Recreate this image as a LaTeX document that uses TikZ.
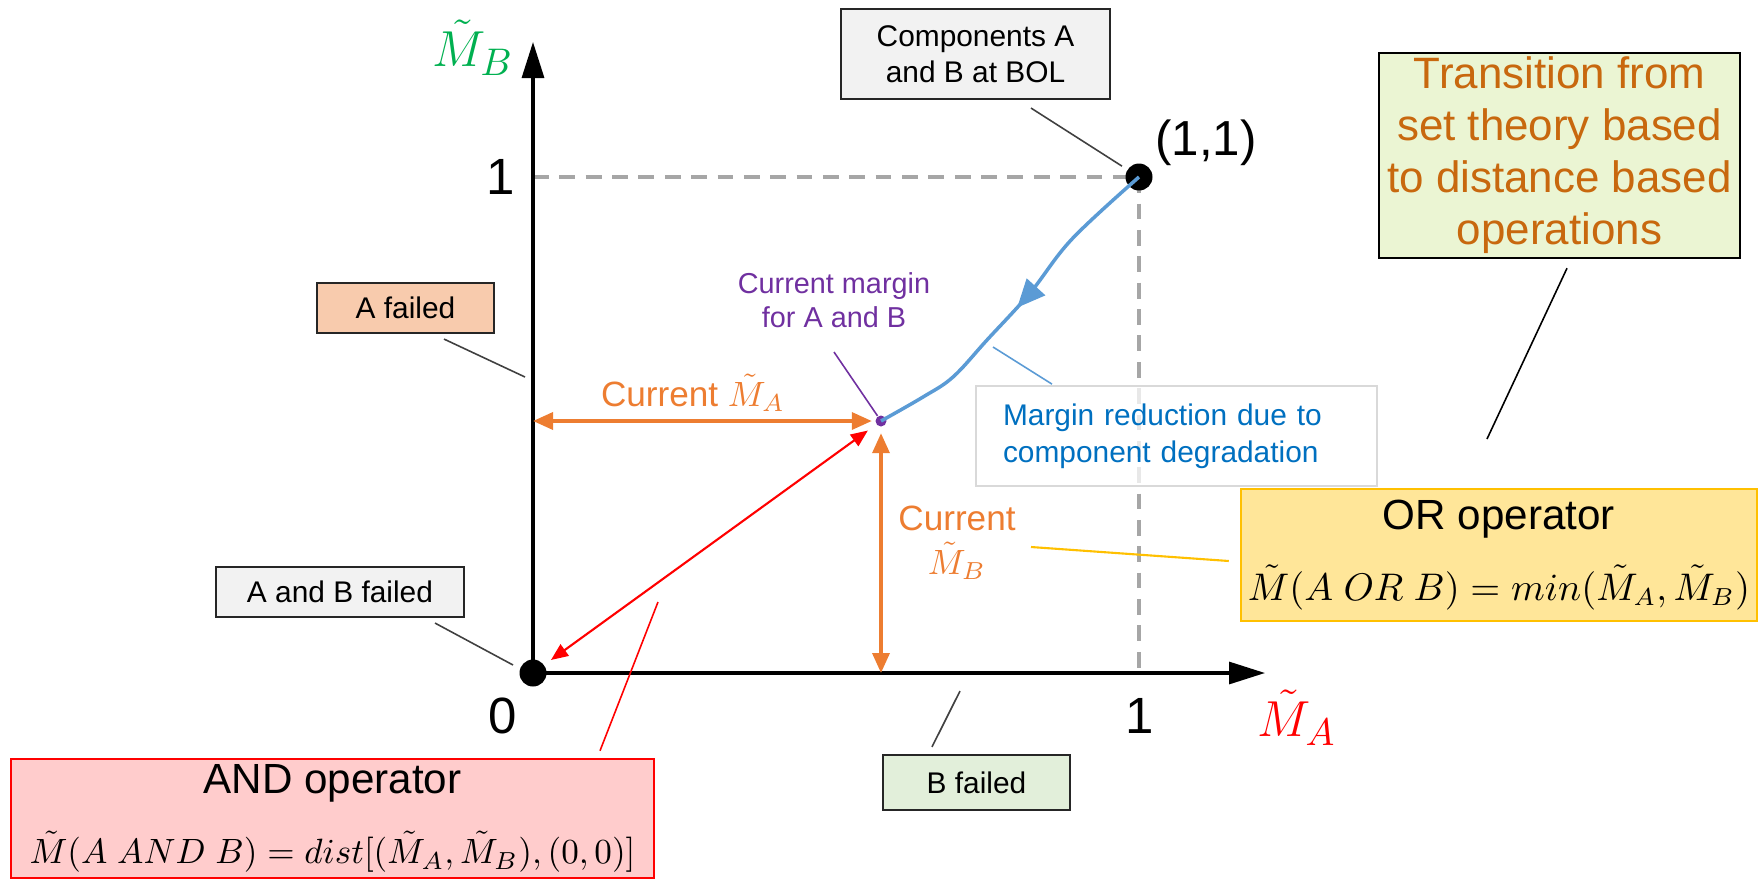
\documentclass[tikz,border=0pt]{standalone}
\usepackage{fontspec}
\setmainfont{Liberation Sans}
\usepackage{tikz}
\usetikzlibrary{arrows.meta,positioning,calc,decorations.markings}
\definecolor{Guide}{HTML}{A6A6A6}
\definecolor{Tan}{HTML}{ED7D31}
\definecolor{Rust}{HTML}{C8680E}
\definecolor{Sky}{HTML}{5B9BD5}
\definecolor{Ocean}{HTML}{0070C0}
\definecolor{Plum}{HTML}{7030A0}
\definecolor{Leaf}{HTML}{00B050}
\definecolor{Alarm}{HTML}{FF0000}
\definecolor{Cloud}{HTML}{F2F2F2}
\definecolor{Peach}{HTML}{F8CBAD}
\definecolor{Mint}{HTML}{E2EFDA}
\definecolor{Lime}{HTML}{EBF5D3}
\definecolor{Gold}{HTML}{FFC000}
\definecolor{GoldSoft}{HTML}{FFE699}
\definecolor{Rose}{HTML}{FFCCCC}
\definecolor{Frame}{HTML}{D9D9D9}
\newcommand{\Mt}{\tilde{M}}
\tikzset{
  tag/.style={draw=black!85,line width=.6pt,align=center,inner sep=0pt,font=\fontsize{8.5}{10.2}\selectfont},
  opbox/.style={line width=.7pt,align=center,inner sep=0pt,font=\fontsize{12}{14}\selectfont},
  axisline/.style={-{Triangle[length=3.6mm,width=2.2mm]},line width=.9pt},
  guide/.style={draw=Guide,line width=1.1pt,dash pattern=on 4.5pt off 3pt},
  reach/.style={{Triangle[length=2mm,width=1.7mm]}-{Triangle[length=2mm,width=1.7mm]},draw=Tan,line width=1pt},
  hyp/.style={{Triangle[length=1.7mm,width=1.4mm]}-{Triangle[length=1.7mm,width=1.4mm]},draw=Alarm,line width=.6pt},
  lead/.style={draw=black!75,line width=.45pt},
  bigdot/.style={circle,fill=black,inner sep=0pt,minimum size=.27cm},
  ticklab/.style={font=\fontsize{14.5}{17}\selectfont},
  trend/.style={draw=Sky,line width=1pt}
}
\begin{document}
\begin{tikzpicture}
  \useasboundingbox (0,0) rectangle (17.6,8.79);
  \coordinate (ytip) at (5.33,8.37);
  \coordinate (xtip) at (12.65,2.06);
  \draw[guide] (5.33,7.02) -- (11.39,7.02) -- (11.39,2.06);
  \node[bigdot] (origin) at (5.33,2.06) {};
  \node[bigdot] (bol) at (11.39,7.02) {};
  \node[circle,fill=Plum,inner sep=0pt,minimum size=.11cm] (cur) at (8.81,4.58) {};
  \draw[axisline] (origin.center) -- (ytip);
  \draw[axisline] (origin.center) -- (xtip);

  \node[ticklab] (yone) at (5.01,7.02) {1};
  \node[ticklab] (zero) at (5.03,1.63) {0};
  \node[ticklab] (xone) at (11.40,1.63) {1};
  \node[font=\fontsize{14}{17}\selectfont] (bollab) at (12.06,7.36) {(1,1)};
  \node[font=\fontsize{15}{18}\selectfont,text=Leaf] (mb) at (4.73,8.31) {$\Mt_B$};
  \node[font=\fontsize{15}{18}\selectfont,text=Alarm] (ma) at (12.97,1.61) {$\Mt_A$};

  \draw[trend] plot[smooth,tension=.6] coordinates {(bol.center) (10.72,6.40) (10.30,5.86) (9.87,5.39) (9.53,5.02) (9.23,4.82) (cur.center)};
  \path[color=Sky,postaction={decorate,decoration={markings,mark=at position .5 with {\arrow{Triangle[length=2.8mm,width=2.5mm]}}}}] plot[smooth,tension=.6] coordinates {(bol.center) (10.72,6.40) (10.30,5.86) (9.87,5.39) (9.53,5.02) (9.23,4.82) (cur.center)};

  \draw[reach,shorten >=.03cm] (origin |- cur) -- (cur);
  \draw[reach,shorten >=.06cm] (origin -| cur) -- (cur);
  \draw[hyp,shorten <=.08cm,shorten >=.1cm] (origin) -- (cur);

  \node[font=\fontsize{10}{12}\selectfont,text=Tan] (curA) at (6.93,4.86) {Current $\Mt_A$};
  \node[font=\fontsize{10}{12.5}\selectfont,text=Tan,align=center] (curB) at (9.57,3.36) {Current\\$\Mt_B$};
  \node[font=\fontsize{8.2}{9.8}\selectfont,text=Plum,align=center] (margin) at (8.34,5.79) {Current margin\\for A and B};
  \draw[lead,draw=Plum] (8.34,5.27) -- (cur);

  \node[tag,fill=Peach,minimum width=1.77cm,minimum height=.5cm] (afail) at (4.055,5.71) {A failed};
  \node[tag,fill=Cloud,minimum width=2.48cm,minimum height=.5cm] (abfail) at (3.40,2.87) {A and B failed};
  \node[tag,fill=Mint,minimum width=1.87cm,minimum height=.55cm] (bfail) at (9.765,.965) {B failed};
  \node[tag,fill=Cloud,minimum width=2.69cm,minimum height=.9cm] (start) at (9.755,8.25) {Components A\\and B at BOL};
  \coordinate (aaxis) at (5.25,5.02);
  \coordinate (baxis) at (9.60,1.88);
  \coordinate (abend) at (5.13,2.14);
  \draw[lead] ([xshift=.385cm,yshift=-.05cm]afail.south) -- (aaxis);
  \draw[lead] ([xshift=.95cm,yshift=-.05cm]abfail.south) -- (abend);
  \draw[lead] ([xshift=-.445cm,yshift=.07cm]bfail.north) -- (baxis);
  \draw[lead,shorten >=.06cm] ([xshift=.555cm,yshift=-.08cm]start.south) -- (bol);

  \node[draw=Frame,fill=white,fill opacity=.75,text opacity=1,line width=.5pt,text width=3.47cm,inner xsep=.27cm,minimum height=1cm,align=left,font=\fontsize{8.5}{10.6}\selectfont,text=Ocean] (reduce) at (11.765,4.43) {Margin reduction due to\\component degradation};
  \coordinate (onpath) at (9.93,5.32);
  \draw[lead,draw=Sky] (onpath) -- ([xshift=-1.245cm,yshift=.01cm]reduce.north);

  \node[opbox,draw=black,fill=Lime,text=Rust,minimum width=3.61cm,minimum height=2.05cm,font=\fontsize{12.5}{14.8}\selectfont] (shift) at (15.595,7.235) {Transition from\\set theory based\\to distance based\\operations};
  \coordinate (shiftend) at (14.87,4.40);
  \draw[lead,draw=black] ([xshift=.075cm,yshift=-.09cm]shift.south) -- (shiftend);

  \node[opbox,draw=Gold,fill=GoldSoft,minimum width=5.16cm,minimum height=1.32cm] (orop) at (14.99,3.24) {OR operator\\[6pt]{\fontsize{10.5}{12}\selectfont$\Mt(A\ OR\ B)=min\bigl(\Mt_A,\Mt_B\bigr)$}};
  \coordinate (orstart) at (10.31,3.32);
  \draw[lead,draw=Gold,line width=.6pt] (orstart) -- ([xshift=-.11cm,yshift=-.06cm]orop.west);

  \node[opbox,draw=Alarm,fill=Rose,minimum width=6.43cm,minimum height=1.19cm] (andop) at (3.325,.605) {AND operator\\[6pt]{\fontsize{10}{12}\selectfont$\Mt(A\ AND\ B)=dist[(\Mt_A,\Mt_B),(0,0)]$}};
  \coordinate (andend) at (6.58,2.77);
  \draw[lead,draw=Alarm] ([xshift=2.675cm,yshift=.07cm]andop.north) -- (andend);
\end{tikzpicture}
\end{document}
